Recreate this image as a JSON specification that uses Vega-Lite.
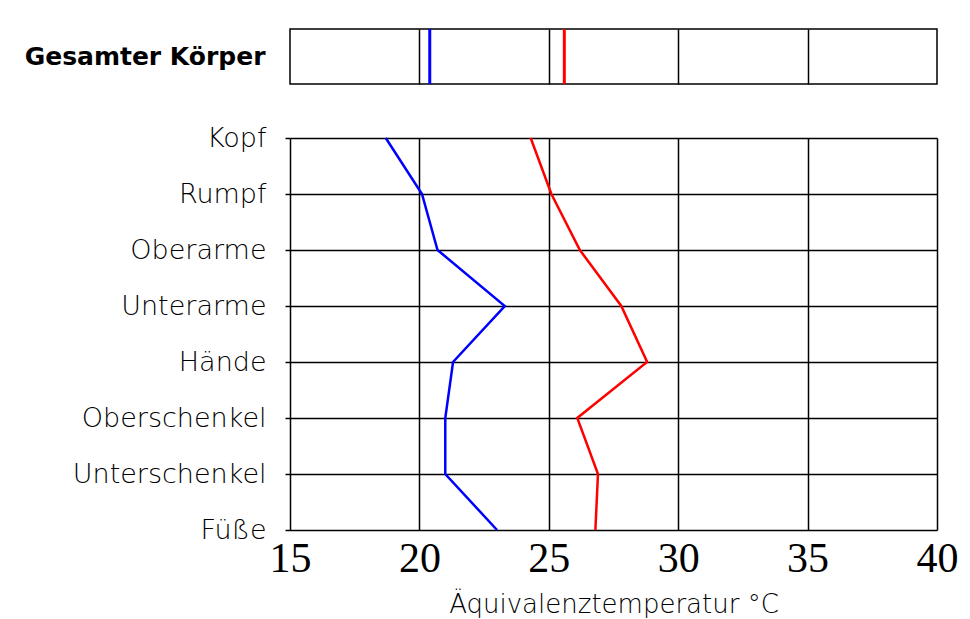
{
  "$schema": "https://vega.github.io/schema/vega-lite/v6.json",
  "background": "white",
  "padding": {"left": 23, "top": 28, "right": 10, "bottom": 5},
  "spacing": 39,
  "datasets": {
    "total": [
      {"label": "Gesamter Körper", "series": "blau", "value": 20.4},
      {"label": "Gesamter Körper", "series": "rot", "value": 25.6}
    ],
    "parts": [
      {"part": "Kopf", "order": 1, "series": "blau", "value": 18.7},
      {"part": "Rumpf", "order": 2, "series": "blau", "value": 20.1},
      {"part": "Oberarme", "order": 3, "series": "blau", "value": 20.7},
      {"part": "Unterarme", "order": 4, "series": "blau", "value": 23.3},
      {"part": "Hände", "order": 5, "series": "blau", "value": 21.3},
      {"part": "Oberschenkel", "order": 6, "series": "blau", "value": 21.0},
      {"part": "Unterschenkel", "order": 7, "series": "blau", "value": 21.0},
      {"part": "Füße", "order": 8, "series": "blau", "value": 23.0},
      {"part": "Kopf", "order": 1, "series": "rot", "value": 24.3},
      {"part": "Rumpf", "order": 2, "series": "rot", "value": 25.1},
      {"part": "Oberarme", "order": 3, "series": "rot", "value": 26.2},
      {"part": "Unterarme", "order": 4, "series": "rot", "value": 27.8},
      {"part": "Hände", "order": 5, "series": "rot", "value": 28.8},
      {"part": "Oberschenkel", "order": 6, "series": "rot", "value": 26.1},
      {"part": "Unterschenkel", "order": 7, "series": "rot", "value": 26.9},
      {"part": "Füße", "order": 8, "series": "rot", "value": 26.8}
    ]
  },
  "vconcat": [
    {
      "width": 647,
      "height": 55,
      "view": {"stroke": "black", "strokeWidth": 1.5},
      "data": {"name": "total"},
      "mark": {"type": "tick", "orient": "vertical", "size": 55, "thickness": 3, "opacity": 1},
      "encoding": {
        "x": {
          "field": "value", "type": "quantitative",
          "scale": {"domain": [15, 40], "nice": false, "zero": false},
          "axis": {"values": [20, 25, 30, 35], "labels": false, "ticks": false, "domain": false, "title": null,
                   "grid": true, "gridColor": "black", "gridWidth": 1.5, "gridOpacity": 1}
        },
        "y": {
          "field": "label", "type": "nominal",
          "scale": {"paddingInner": 0, "paddingOuter": 0},
          "axis": {"title": null, "ticks": false, "domain": false, "labelPadding": 25, "labelLimit": 400,
                   "labelFont": "DejaVu Sans", "labelFontWeight": "bold", "labelFontSize": 25, "labelColor": "black"}
        },
        "color": {
          "field": "series", "type": "nominal",
          "scale": {"domain": ["blau", "rot"], "range": ["#0000FF", "#FF0000"]},
          "legend": null
        }
      }
    },
    {
      "width": 647,
      "height": 392,
      "view": {"stroke": null},
      "data": {"name": "parts"},
      "mark": {"type": "line", "strokeWidth": 2.5},
      "encoding": {
        "x": {
          "field": "value", "type": "quantitative",
          "scale": {"domain": [15, 40], "nice": false, "zero": false},
          "axis": {"values": [15, 20, 25, 30, 35, 40], "ticks": false, "domain": false,
                   "grid": true, "gridColor": "black", "gridWidth": 1.5, "gridOpacity": 1,
                   "labelFont": "Liberation Serif", "labelFontSize": 42, "labelColor": "black", "labelPadding": 8,
                   "labelFlush": false,
                   "title": "Äquivalenztemperatur °C", "titleFont": "DejaVu Sans", "titleFontSize": 26,
                   "titleFontWeight": 300, "titleColor": "black", "titlePadding": 12}
        },
        "y": {
          "field": "part", "type": "ordinal",
          "sort": ["Kopf", "Rumpf", "Oberarme", "Unterarme", "Hände", "Oberschenkel", "Unterschenkel", "Füße"],
          "scale": {"type": "point", "padding": 0},
          "axis": {"title": null, "domain": false, "ticks": true, "tickSize": 5, "tickColor": "black", "tickWidth": 1.5,
                   "grid": true, "gridColor": "black", "gridWidth": 1.5, "gridOpacity": 1, "labelLimit": 400,
                   "labelPadding": 19, "labelFont": "DejaVu Sans", "labelFontWeight": 300, "labelFontSize": 27, "labelColor": "black"}
        },
        "order": {"field": "order", "type": "quantitative"},
        "color": {
          "field": "series", "type": "nominal",
          "scale": {"domain": ["blau", "rot"], "range": ["#0000FF", "#FF0000"]},
          "legend": null
        }
      }
    }
  ]
}
